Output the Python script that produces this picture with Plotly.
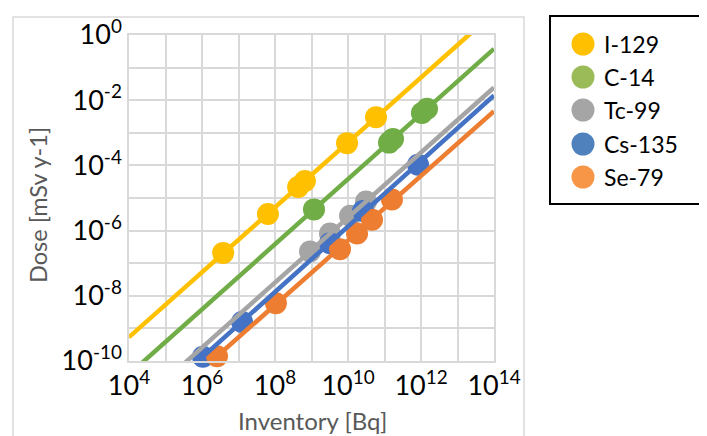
import numpy as np
import plotly.graph_objects as go

# ---------------- data ----------------
series_names = ["I-129", "C-14", "Tc-99", "Cs-135", "Se-79"]

# inventory [Bq] and dose [mSv/y] of the plotted points
i129_inv = [3.8e6, 6.4e7, 4.3e8, 6.6e8, 9.4e9, 5.85e10]
i129_dose = [2.07e-7, 3.24e-6, 2.17e-5, 3.31e-5, 4.82e-4, 3.01e-3]

c14_inv = [1.17e9, 1.33e11, 1.71e11, 1.06e12, 1.46e12]
c14_dose = [4.47e-6, 5.0e-4, 6.5e-4, 4.05e-3, 5.5e-3]

tc99_inv = [9.1e8, 3.21e9, 1.14e10, 3.11e10]
tc99_dose = [2.3e-7, 8.1e-7, 2.85e-6, 7.8e-6]

cs135_inv = [1.06e6, 1.25e7, 3.21e9, 2.58e10, 8.28e11]
cs135_dose = [1.35e-10, 1.58e-9, 4.1e-7, 4.0e-6, 1.05e-4]

se79_inv = [2.58e6, 1.06e8, 6.04e9, 1.77e10, 4.55e10, 1.6e11]
se79_dose = [1.4e-10, 5.9e-9, 2.7e-7, 8.2e-7, 2.15e-6, 9.0e-6]

inventories = [i129_inv, c14_inv, tc99_inv, cs135_inv, se79_inv]
doses = [i129_dose, c14_dose, tc99_dose, cs135_dose, se79_dose]

x_tick_vals = [10.0 ** k for k in range(4, 15)]
x_tick_text = ["10<sup>%d</sup>" % k if k % 2 == 0 else "" for k in range(4, 15)]
y_tick_vals = [10.0 ** k for k in range(-10, 1)]
y_tick_text = ["10<sup>%d</sup>" % k if k % 2 == 0 else "" for k in range(-10, 1)]

x_title = "Inventory [Bq]"
y_title = "Dose [mSv y-1]"

# ---------------- styling ----------------
chart_colors = ["#FFC000", "#70AD47", "#A5A5A5", "#4472C4", "#ED7D31"]
legend_colors = ["#FFC000", "#9BBB59", "#A5A5A5", "#4F81BD", "#F79646"]
FONT = "Lato, 'Open Sans', sans-serif"
X_RANGE = (4, 14)
Y_RANGE = (-10, 0)

PAGE_OFF = 8  # the page body margin shifts the figure by this much
W, H = 707 - PAGE_OFF, 436 - PAGE_OFF
# plot-area pixel box (in the 707x436 window coordinates)
RL, RR, RT, RB = 129, 494, 35, 361
PL, PR, PT, PB = RL - PAGE_OFF, RR - PAGE_OFF, RT - PAGE_OFF, RB - PAGE_OFF


def px(x):
    return (x - RL) / (RR - RL)


def py(y):
    return (RB - y) / (RB - RT)


fig = go.Figure()

# markers
for name, xs, ys, col in zip(series_names, inventories, doses, chart_colors):
    fig.add_trace(go.Scatter(
        x=xs, y=ys, mode="markers", name=name, showlegend=False,
        marker=dict(size=22, color=col, line=dict(width=0)),
        cliponaxis=False, hoverinfo="x+y+name"))

# power-law trend lines (least squares in log-log space, like Excel)
for name, xs, ys, col in zip(series_names, inventories, doses, chart_colors):
    b, a = np.polyfit(np.log10(xs), np.log10(ys), 1)
    lx = np.array([10.0 ** X_RANGE[0], 10.0 ** X_RANGE[1]])
    ly = 10.0 ** (a + b * np.log10(lx))
    fig.add_trace(go.Scatter(
        x=lx, y=ly, mode="lines", showlegend=False, name=name + " trend",
        line=dict(color=col, width=4.5), hoverinfo="skip"))

axis_common = dict(
    type="log", showgrid=True, gridcolor="#D9D9D9", gridwidth=1.5,
    showline=True, linecolor="#D9D9D9", linewidth=1.5, mirror=True,
    zeroline=False, ticks="", automargin=False,
    tickfont=dict(family=FONT, size=27, color="#000000"),
)

fig.update_xaxes(range=list(X_RANGE), tickmode="array", tickvals=x_tick_vals,
                 ticktext=x_tick_text, **axis_common)
fig.update_yaxes(range=list(Y_RANGE), tickmode="array", tickvals=y_tick_vals,
                 ticktext=y_tick_text, **axis_common)

shapes = []
# outer chart border
shapes.append(dict(type="rect", xref="paper", yref="paper",
                   x0=px(13), x1=px(524), y0=py(17), y1=py(445),
                   line=dict(color="#D9D9D9", width=1.5), layer="below"))
# legend box
shapes.append(dict(type="rect", xref="paper", yref="paper",
                   x0=px(550), x1=px(712), y0=py(16), y1=py(204),
                   line=dict(color="#000000", width=2), fillcolor="white"))

annotations = [
    dict(xref="paper", yref="paper", x=px(312), y=py(420), xanchor="center",
         yanchor="middle", text=x_title, showarrow=False,
         font=dict(family=FONT, size=24, color="#595959")),
    dict(xref="paper", yref="paper", x=px(38), y=py(205), xanchor="center",
         yanchor="middle", text=y_title, showarrow=False, textangle=-90,
         font=dict(family=FONT, size=23.5, color="#595959")),
]
leg_y = [44, 77, 110, 144, 177]
for name, col, yy in zip(series_names, legend_colors, leg_y):
    shapes.append(dict(type="circle", xref="paper", yref="paper",
                       x0=px(583 - 11.5), x1=px(583 + 11.5),
                       y0=py(yy + 11.5), y1=py(yy - 11.5),
                       fillcolor=col, line=dict(width=0)))
    annotations.append(dict(xref="paper", yref="paper", x=px(602), y=py(yy),
                            xanchor="left", yanchor="middle", text=name, showarrow=False,
                            font=dict(family=FONT, size=23, color="#000000")))

fig.update_layout(
    width=W, height=H, autosize=False,
    margin=dict(l=PL, r=W - PR, t=PT, b=H - PB),
    paper_bgcolor="white", plot_bgcolor="white",
    shapes=shapes, annotations=annotations, showlegend=False,
)

fig.write_html("out.html")
